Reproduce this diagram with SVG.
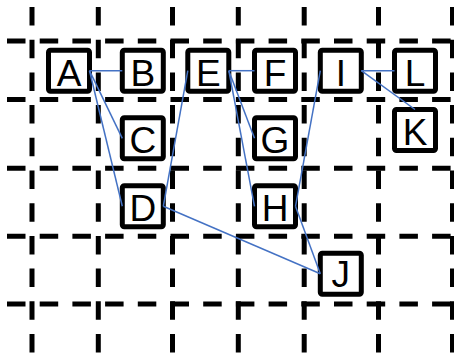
<svg xmlns="http://www.w3.org/2000/svg" width="454" height="354" viewBox="0 0 454 354">
<style>
.grid line{stroke:#000;stroke-width:5;stroke-dasharray:18.5 14.2;fill:none}
.node rect{fill:#fff;stroke:#000;stroke-width:5}
.node text{font-family:"Liberation Sans",Arial,sans-serif;font-size:37px;text-anchor:middle;fill:#000}
.edges line{stroke:#4472C4;stroke-width:1.5}
</style>
<rect width="454" height="354" fill="#fff"/>
<g class="grid">
<line x1="7" y1="41" x2="454" y2="41"/>
<line x1="7" y1="99.5" x2="454" y2="99.5"/>
<line x1="7" y1="168.3" x2="454" y2="168.3"/>
<line x1="7" y1="236.3" x2="454" y2="236.3"/>
<line x1="7" y1="304" x2="454" y2="304"/>
<line x1="32" y1="7" x2="32" y2="354"/>
<line x1="98.3" y1="7" x2="98.3" y2="354"/>
<line x1="172.5" y1="7" x2="172.5" y2="354"/>
<line x1="238.3" y1="7" x2="238.3" y2="354"/>
<line x1="304.2" y1="7" x2="304.2" y2="354"/>
<line x1="378.5" y1="7" x2="378.5" y2="354"/>
<line x1="452.5" y1="7" x2="452.5" y2="354"/>
</g>
<g id="A" class="node"><rect x="48.5" y="50.2" width="41" height="41" rx="2"/><text x="69" y="85.7">A</text></g>
<g id="B" class="node"><rect x="122.3" y="50.2" width="41" height="41" rx="2"/><text x="142.8" y="85.7">B</text></g>
<g id="C" class="node"><rect x="122.3" y="117.8" width="41" height="41" rx="2"/><text x="142.8" y="153.3">C</text></g>
<g id="D" class="node"><rect x="122.3" y="185.8" width="41" height="41" rx="2"/><text x="142.8" y="221.3">D</text></g>
<g id="E" class="node"><rect x="187.8" y="50.2" width="41" height="41" rx="2"/><text x="208.3" y="85.7">E</text></g>
<g id="F" class="node"><rect x="254.5" y="50.2" width="41" height="41" rx="2"/><text x="275" y="85.7">F</text></g>
<g id="G" class="node"><rect x="254.5" y="117.8" width="41" height="41" rx="2"/><text x="275" y="153.3">G</text></g>
<g id="H" class="node"><rect x="254.5" y="185.8" width="41" height="41" rx="2"/><text x="275" y="221.3">H</text></g>
<g id="I" class="node"><rect x="320.3" y="50.2" width="41" height="41" rx="2"/><text x="340.8" y="85.7">I</text></g>
<g id="J" class="node"><rect x="320.3" y="253.2" width="41" height="41" rx="2"/><text x="340.8" y="286.7">J</text></g>
<g id="K" class="node"><rect x="394.5" y="109.5" width="41" height="41" rx="2"/><text x="415" y="145">K</text></g>
<g id="L" class="node"><rect x="394.5" y="50.2" width="41" height="41" rx="2"/><text x="415" y="85.7">L</text></g>
<g id="connectors" class="edges">
<line x1="89.5" y1="70.7" x2="122.3" y2="70.7"/>
<line x1="89.5" y1="70.7" x2="122.3" y2="138.3"/>
<line x1="89.5" y1="70.7" x2="122.3" y2="206.3"/>
<line x1="187.8" y1="70.7" x2="163.3" y2="206.3"/>
<line x1="163.3" y1="206.3" x2="320.3" y2="273.7"/>
<line x1="228.8" y1="70.7" x2="254.5" y2="70.7"/>
<line x1="228.8" y1="70.7" x2="254.5" y2="138.3"/>
<line x1="228.8" y1="70.7" x2="254.5" y2="206.3"/>
<line x1="320.3" y1="70.7" x2="295.5" y2="206.3"/>
<line x1="295.5" y1="206.3" x2="320.3" y2="273.7"/>
<line x1="394.5" y1="70.7" x2="361.3" y2="70.7"/>
<line x1="415" y1="109.5" x2="361.3" y2="70.7"/>
</g>
</svg>
